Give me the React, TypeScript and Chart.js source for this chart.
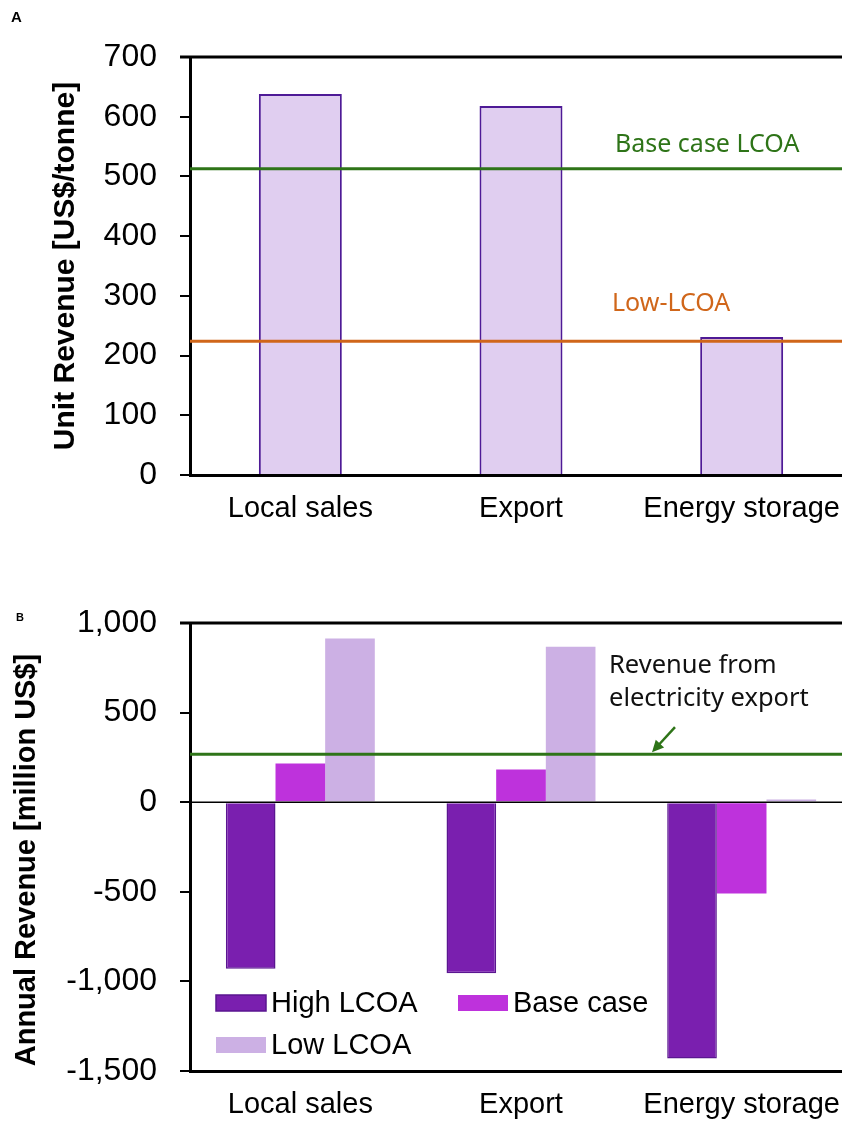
import React, { useEffect, useRef } from "react";
import { Chart, registerables } from "chart.js";

Chart.register(...registerables);

// ---------- Data ----------
const categories = ["Local sales", "Export", "Energy storage"];

// Panel A: unit revenue [US$/tonne]
const unitRevenue = [638, 618, 231];
const unitAxisMin = 0;
const unitAxisMax = 700;
const unitAxisStep = 100;
const baseCaseLCOA = 513;
const lowLCOA = 224;

// Panel B: annual revenue [million US$]
const seriesLabels = ["High LCOA", "Base case", "Low LCOA"];
const highLCOARevenue = [-930, -955, -1430];
const baseCaseRevenue = [216, 182, -510];
const lowLCOARevenue = [913, 867, 15];
const electricityExportRevenue = 268;
const annualAxisMin = -1500;
const annualAxisMax = 1000;
const annualAxisStep = 500;

const unitTitle = "Unit Revenue [US$/tonne]";
const annualTitle = "Annual Revenue [million US$]";

// ---------- Styles ----------
const AXIS_FONT = "'Liberation Sans', Arial, Helvetica, sans-serif";
const NOTE_FONT = "'Noto Sans', 'Open Sans', sans-serif";
const GREEN = "#2E7418";
const ORANGE = "#D0661A";
const seriesColors = ["#7A1FAF", "#BE32DC", "#CCB0E4"];
const seriesBorders = ["#5A1690", "#BE32DC", "#CCB0E4"];

const CANVAS_W = 900;

function drawArrow(ctx: CanvasRenderingContext2D, x1: number, y1: number, x2: number, y2: number, color: string) {
  const ang = Math.atan2(y2 - y1, x2 - x1);
  const head = 13;
  ctx.save();
  ctx.strokeStyle = color;
  ctx.fillStyle = color;
  ctx.lineWidth = 2.5;
  ctx.beginPath();
  ctx.moveTo(x1, y1);
  ctx.lineTo(x2 - Math.cos(ang) * head * 0.7, y2 - Math.sin(ang) * head * 0.7);
  ctx.stroke();
  ctx.beginPath();
  ctx.moveTo(x2, y2);
  ctx.lineTo(x2 - head * Math.cos(ang - 0.45), y2 - head * Math.sin(ang - 0.45));
  ctx.lineTo(x2 - head * Math.cos(ang + 0.45), y2 - head * Math.sin(ang + 0.45));
  ctx.closePath();
  ctx.fill();
  ctx.restore();
}

function drawVerticalTitle(ctx: CanvasRenderingContext2D, text: string, cx: number, cy: number, size: number) {
  ctx.save();
  ctx.translate(cx, cy);
  ctx.rotate(-Math.PI / 2);
  ctx.fillStyle = "#000";
  ctx.font = `bold ${size}px ${AXIS_FONT}`;
  ctx.textAlign = "center";
  ctx.textBaseline = "middle";
  ctx.fillText(text, 0, 0);
  ctx.restore();
}

const topPlugin = {
  id: "topDecor",
  afterDatasetsDraw(chart: any) {
    const ctx: CanvasRenderingContext2D = chart.ctx;
    const { left, right, top } = chart.chartArea;
    const y = chart.scales.y;
    ctx.save();
    // top frame line
    ctx.strokeStyle = "#000";
    ctx.lineWidth = 3;
    ctx.beginPath();
    ctx.moveTo(left - 10, top);
    ctx.lineTo(right, top);
    ctx.stroke();
    // reference lines
    const refs = [
      { v: baseCaseLCOA, color: GREEN, text: "Base case LCOA", tx: 615, dy: -24 },
      { v: lowLCOA, color: ORANGE, text: "Low-LCOA", tx: 612, dy: -37 },
    ];
    refs.forEach((r) => {
      const py = y.getPixelForValue(r.v);
      ctx.strokeStyle = r.color;
      ctx.lineWidth = 3;
      ctx.beginPath();
      ctx.moveTo(left, py);
      ctx.lineTo(right, py);
      ctx.stroke();
      ctx.fillStyle = r.color;
      ctx.font = `25px ${NOTE_FONT}`;
      ctx.textBaseline = "middle";
      ctx.textAlign = "left";
      ctx.fillText(r.text, r.tx, py + r.dy);
    });
    // axis title
    drawVerticalTitle(ctx, unitTitle, 66, 266, 30);
    // panel label
    ctx.fillStyle = "#000";
    ctx.font = `bold 15px ${AXIS_FONT}`;
    ctx.textBaseline = "alphabetic";
    ctx.textAlign = "left";
    ctx.fillText("A", 11, 22);
    ctx.restore();
  },
};

const bottomPlugin = {
  id: "bottomDecor",
  afterDatasetsDraw(chart: any) {
    const ctx: CanvasRenderingContext2D = chart.ctx;
    const { left, right, top } = chart.chartArea;
    const y = chart.scales.y;
    ctx.save();
    // top frame line
    ctx.strokeStyle = "#000";
    ctx.lineWidth = 3;
    ctx.beginPath();
    ctx.moveTo(left - 10, top);
    ctx.lineTo(right, top);
    ctx.stroke();
    // zero line
    const y0 = y.getPixelForValue(0);
    ctx.lineWidth = 1.5;
    ctx.beginPath();
    ctx.moveTo(left, y0);
    ctx.lineTo(right, y0);
    ctx.stroke();
    // electricity export line
    const ye = y.getPixelForValue(electricityExportRevenue);
    ctx.strokeStyle = GREEN;
    ctx.lineWidth = 3;
    ctx.beginPath();
    ctx.moveTo(left, ye);
    ctx.lineTo(right, ye);
    ctx.stroke();
    // annotation text
    ctx.fillStyle = "#111";
    ctx.font = `25.5px ${NOTE_FONT}`;
    ctx.textBaseline = "middle";
    ctx.textAlign = "left";
    ctx.fillText("Revenue from", 609, ye - 88);
    ctx.fillText("electricity export", 609, ye - 55);
    drawArrow(ctx, 675, ye - 27, 652, ye - 2, GREEN);
    // legend
    const items = [
      { i: 0, x: 216, y: 1003 - 560 },
      { i: 1, x: 458, y: 1003 - 560 },
      { i: 2, x: 216, y: 1045 - 560 },
    ];
    items.forEach((it) => {
      const ds = chart.data.datasets[it.i];
      ctx.fillStyle = ds.backgroundColor;
      ctx.fillRect(it.x, it.y - 8, 50, 16);
      if (it.i === 0) {
        ctx.strokeStyle = ds.borderColor;
        ctx.lineWidth = 1.5;
        ctx.strokeRect(it.x, it.y - 8, 50, 16);
      }
      ctx.fillStyle = "#000";
      ctx.font = `29px ${AXIS_FONT}`;
      ctx.textBaseline = "middle";
      ctx.fillText(ds.label, it.x + 55, it.y + 1);
    });
    // axis title
    drawVerticalTitle(ctx, annualTitle, 27, 860 - 560, 29);
    // panel label
    ctx.fillStyle = "#000";
    ctx.font = `bold 11px ${AXIS_FONT}`;
    ctx.textBaseline = "alphabetic";
    ctx.textAlign = "left";
    ctx.fillText("B", 16, 621 - 560);
    ctx.restore();
  },
};

function TopChart() {
  const ref = useRef<HTMLCanvasElement>(null);
  useEffect(() => {
    const chart = new Chart(ref.current as HTMLCanvasElement, {
      type: "bar",
      data: {
        labels: categories,
        datasets: [
          {
            label: "Unit revenue",
            data: unitRevenue,
            backgroundColor: "#E0CEF0",
            borderColor: "#4E1A96",
            borderWidth: 2,
            categoryPercentage: 1,
            barPercentage: 0.376,
          },
        ],
      },
      options: {
        responsive: false,
        animation: false,
        devicePixelRatio: 1,
        layout: { padding: { top: 57, right: 48, bottom: 25, left: 0 } },
        plugins: { legend: { display: false }, tooltip: { enabled: false } },
        scales: {
          x: {
            grid: { display: true, drawOnChartArea: false, drawTicks: false },
            border: { display: true, color: "#000", width: 3 },
            ticks: { color: "#000", font: { family: AXIS_FONT, size: 29 }, padding: 17, maxRotation: 0, autoSkip: false },
            afterFit: (s: any) => {
              s.height = 60;
            },
          },
          y: {
            min: unitAxisMin,
            max: unitAxisMax,
            ticks: { stepSize: unitAxisStep, color: "#000", font: { family: AXIS_FONT, size: 32 }, padding: 23 },
            grid: { drawOnChartArea: false, drawTicks: true, tickLength: 10, color: "#000", lineWidth: 2 },
            border: { display: true, color: "#000", width: 3 },
            title: { display: false },
            afterFit: (s: any) => {
              s.width = 190;
            },
          },
        },
      },
      plugins: [topPlugin],
    } as any);
    return () => chart.destroy();
  }, []);
  return (
    <canvas
      ref={ref}
      width={CANVAS_W}
      height={560}
      style={{ position: "absolute", left: 0, top: 0, width: CANVAS_W, height: 560 }}
    />
  );
}

function BottomChart() {
  const ref = useRef<HTMLCanvasElement>(null);
  useEffect(() => {
    const values = [highLCOARevenue, baseCaseRevenue, lowLCOARevenue];
    const chart = new Chart(ref.current as HTMLCanvasElement, {
      type: "bar",
      data: {
        labels: categories,
        datasets: values.map((v, i) => ({
          label: seriesLabels[i],
          data: v,
          backgroundColor: seriesColors[i],
          borderColor: seriesBorders[i],
          borderWidth: i === 0 ? 1.5 : 0,
          categoryPercentage: 0.675,
          barPercentage: 1,
        })),
      },
      options: {
        responsive: false,
        animation: false,
        devicePixelRatio: 1,
        layout: { padding: { top: 63, right: 48, bottom: 0, left: 0 } },
        plugins: { legend: { display: false }, tooltip: { enabled: false } },
        scales: {
          x: {
            grid: { display: true, drawOnChartArea: false, drawTicks: false },
            border: { display: true, color: "#000", width: 3 },
            ticks: { color: "#000", font: { family: AXIS_FONT, size: 29 }, padding: 17, maxRotation: 0, autoSkip: false },
            afterFit: (s: any) => {
              s.height = 52;
            },
          },
          y: {
            min: annualAxisMin,
            max: annualAxisMax,
            ticks: { stepSize: annualAxisStep, color: "#000", font: { family: AXIS_FONT, size: 32 }, padding: 23 },
            grid: { drawOnChartArea: false, drawTicks: true, tickLength: 10, color: "#000", lineWidth: 2 },
            border: { display: true, color: "#000", width: 3 },
            title: { display: false },
            afterFit: (s: any) => {
              s.width = 190;
            },
          },
        },
      },
      plugins: [bottomPlugin],
    } as any);
    return () => chart.destroy();
  }, []);
  return (
    <canvas
      ref={ref}
      width={CANVAS_W}
      height={563}
      style={{ position: "absolute", left: 0, top: 560, width: CANVAS_W, height: 563 }}
    />
  );
}

export default function App() {
  return (
    <div
      style={{
        position: "absolute",
        left: 0,
        top: 0,
        width: 842,
        height: 1123,
        overflow: "hidden",
        background: "#fff",
      }}
    >
      <TopChart />
      <BottomChart />
    </div>
  );
}
